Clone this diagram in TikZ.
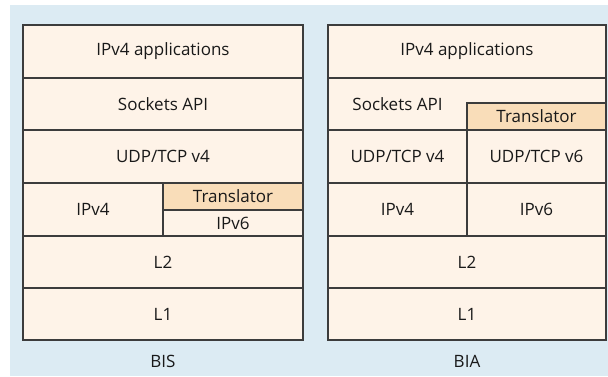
\documentclass[tikz,border=0pt]{standalone}
\usepackage{fontspec}
\setmainfont{Open Sans}
\definecolor{panelbg}{HTML}{DCEBF3}
\definecolor{layerfill}{HTML}{FEF3E8}
\definecolor{transfill}{HTML}{F9DDB9}
\definecolor{edgecol}{HTML}{3C3C3C}
\tikzset{
  cell/.style={draw=edgecol, line width=1.2pt, fill=layerfill, inner sep=0pt,
    font=\fontsize{17}{19}\selectfont, text=black!90},
  trans/.style={cell, fill=transfill},
  caption/.style={inner sep=0pt, font=\fontsize{17}{19}\selectfont, text=black!90}
}
\newcommand{\cellat}[7][cell]{%
  % #2 name, #3 x0, #4 y0, #5 x1, #6 y1, #7 text
  \node[#1, minimum width={(#5)-(#3)}, minimum height={(#6)-(#4)}]
    (#2) at ({((#3)+(#5))/2},{((#4)+(#6))/2}) {#7};}
\begin{document}
\begin{tikzpicture}[x=1pt,y=-1pt]
\useasboundingbox (0,0) rectangle (608,376);
\fill[white] (0,0) rectangle (608,376);
\fill[panelbg] (10,5) rectangle (608,376);

% BIS stack
\cellat{bisapp}{23}{25}{303}{78}{IPv4 applications}
\cellat{bissock}{23}{78}{303}{130}{Sockets API}
\cellat{bisudp}{23}{130}{303}{183}{UDP/TCP v4}
\cellat{bisipf}{23}{183}{163}{236}{IPv4}
\cellat[trans]{bistr}{163}{183}{303}{210}{Translator}
\cellat{bisips}{163}{210}{303}{236}{IPv6}
\cellat{bisltwo}{23}{236}{303}{288}{L2}
\cellat{bislone}{23}{288}{303}{340}{L1}
\node[caption] (bis) at (163,361) {BIS};

% BIA stack
\cellat{biaapp}{328}{25}{606}{78}{IPv4 applications}
\cellat{biasock}{328}{78}{606}{130}{}
\node[caption] (biasocktxt) at (397.5,104) {Sockets API};
\cellat[trans]{biatr}{467}{103}{606}{130}{Translator}
\cellat{biaudpf}{328}{130}{467}{183}{UDP/TCP v4}
\cellat{biaudps}{467}{130}{606}{183}{UDP/TCP v6}
\cellat{biaipf}{328}{183}{467}{236}{IPv4}
\cellat{biaips}{467}{183}{606}{236}{IPv6}
\cellat{bialtwo}{328}{236}{606}{288}{L2}
\cellat{bialone}{328}{288}{606}{340}{L1}
\node[caption] (bia) at (467,361) {BIA};
\end{tikzpicture}
\end{document}
